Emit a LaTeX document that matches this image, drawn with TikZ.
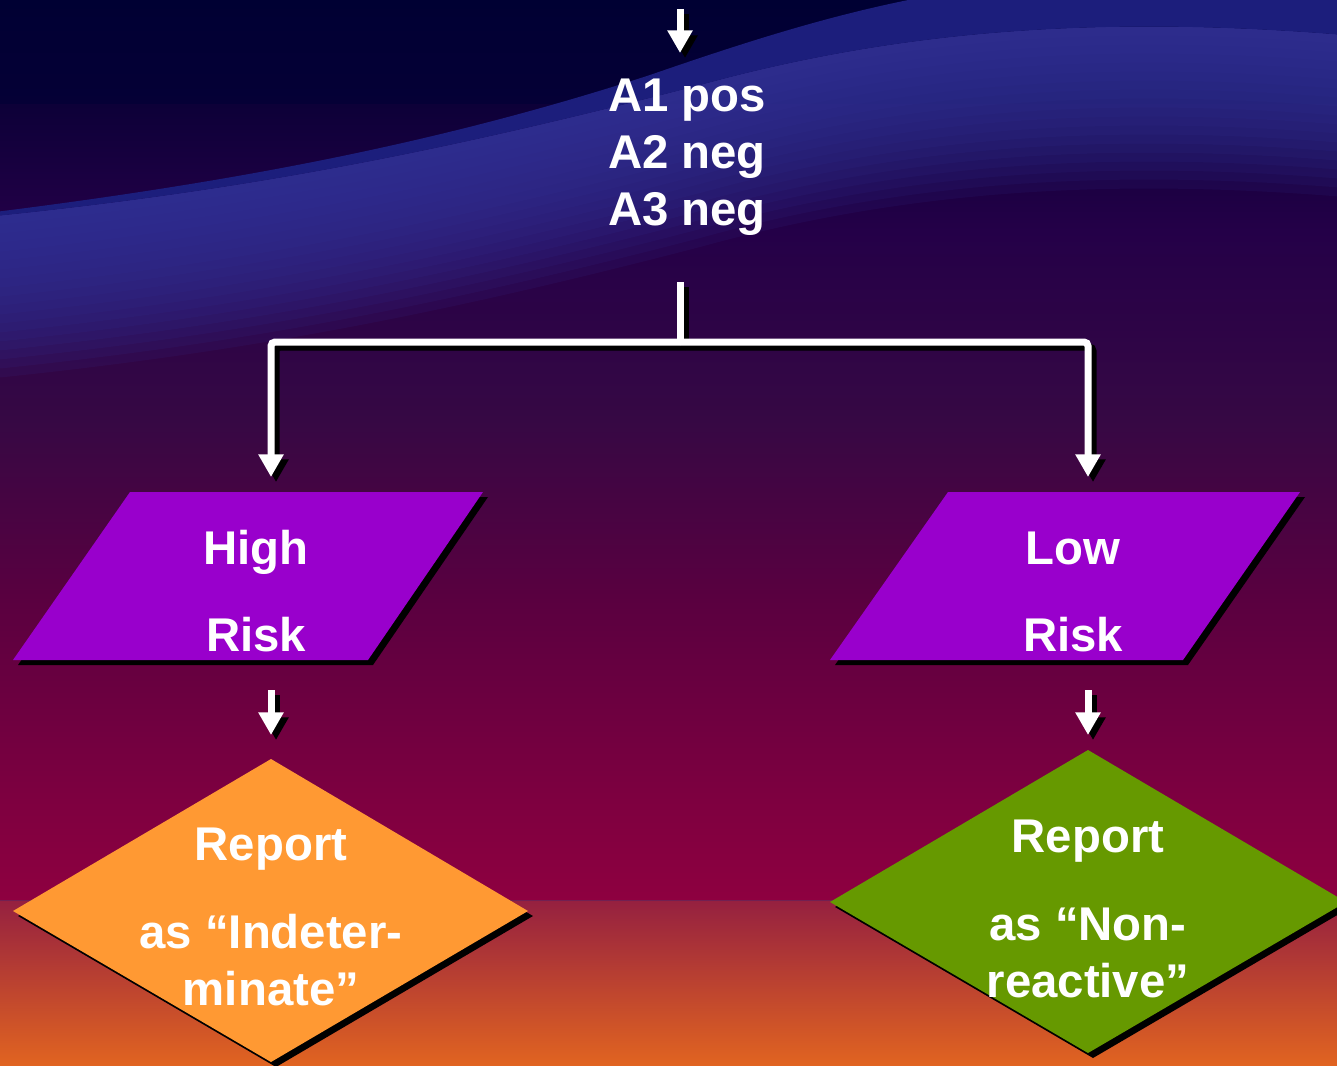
\documentclass[tikz,border=0pt]{standalone}
\usepackage{fontspec}
\setmainfont{Liberation Sans}
\usetikzlibrary{arrows.meta}
\definecolor{purp}{HTML}{9900CC}
\definecolor{orng}{HTML}{FF9933}
\definecolor{grn}{HTML}{669900}
\definecolor{wavelight}{HTML}{35349A}
\definecolor{wavedark}{HTML}{1C1E7C}
\definecolor{bgA}{HTML}{000033}
\definecolor{bgB}{HTML}{050036}
\definecolor{bgC}{HTML}{0D0038}
\definecolor{bgD}{HTML}{240048}
\definecolor{bgE}{HTML}{360844}
\definecolor{bgF}{HTML}{5A0040}
\definecolor{bgG}{HTML}{7E0040}
\definecolor{bgH}{HTML}{8E0040}
\definecolor{bgI}{HTML}{952040}
\definecolor{bgJ}{HTML}{E26520}
\newcommand\wavereg[1]{(-5,216+#1) .. controls (250,190+#1) and (450,150+#1) .. (700,85+#1) .. controls (900,30+#1) and (1100,15+#1) .. (1345,35+#1) -- (1345,900) -- (-5,900) -- cycle}
\tikzset{
  lbl/.style={text=white, font=\bfseries\fontsize{35.5}{42.75}\selectfont, align=center, inner sep=0pt},
  shd/.style={draw=black, line width=5.25pt, transform canvas={shift={(5,5)}}},
  wht/.style={draw=white, line width=5.25pt},
  arr/.style={-{Triangle[width=18pt,length=17pt]}},
  boxshadow/.style={fill=black, shift={(5,5)}}
}
\begin{document}
\begin{tikzpicture}[x=0.75pt,y=-0.75pt]
\useasboundingbox (0,0) rectangle (1337,1066);
% background
\shade[top color=bgA, bottom color=bgB] (-2,-2) rectangle (1339,106);
\shade[top color=bgC, bottom color=bgD] (-2,105) rectangle (1339,231);
\shade[top color=bgD, bottom color=bgE] (-2,230) rectangle (1339,421);
\shade[top color=bgE, bottom color=bgF] (-2,420) rectangle (1339,601);
\shade[top color=bgF, bottom color=bgG] (-2,600) rectangle (1339,801);
\shade[top color=bgG, bottom color=bgH] (-2,800) rectangle (1339,901);
\shade[top color=bgI, bottom color=bgJ] (-2,900) rectangle (1339,1068);
% wave
\foreach \k in {1,...,18}
  \fill[wavelight, opacity=0.12, even odd rule] \wavereg{0} \wavereg{\k*9};
\fill[wavedark] (-5,212) .. controls (250,180) and (450,140) .. (650,75) .. controls (780,30) and (880,0) .. (1000,-15) -- (1345,-15) -- (1345,35) .. controls (1100,15) and (900,30) .. (700,85) .. controls (450,150) and (250,190) .. (-5,216) -- cycle;
% shapes
\fill[boxshadow] (130,492) -- (483,492) -- (368,660) -- (13,660) -- cycle;
\fill[purp] (130,492) -- (483,492) -- (368,660) -- (13,660) -- cycle;
\fill[boxshadow] (948,492) -- (1300,492) -- (1183,660) -- (830,660) -- cycle;
\fill[purp] (948,492) -- (1300,492) -- (1183,660) -- (830,660) -- cycle;
\fill[boxshadow] (271,759) -- (528,911) -- (271,1062) -- (13,911) -- cycle;
\fill[orng] (271,759) -- (528,911) -- (271,1062) -- (13,911) -- cycle;
\fill[boxshadow] (1088,750) -- (1346,902) -- (1088,1053) -- (830,902) -- cycle;
\fill[grn] (1088,750) -- (1346,902) -- (1088,1053) -- (830,902) -- cycle;
% text
\node[lbl] (acond) at (687,157) {A1 pos\\A2 neg\\A3 neg};
\node[lbl] (high) at (256,591.5) {High\\[22.5pt]Risk};
\node[lbl] (low) at (1073,591.5) {Low\\[22.5pt]Risk};
\node[lbl] (repL) at (271,917) {Report\\[23.25pt]as “Indeter-\\minate”};
\node[lbl] (repR) at (1088,909) {Report\\[23.25pt]as “Non-\\reactive”};
% connector ends
\coordinate (topin) at (680,9);
\coordinate (topout) at (680,53);
\coordinate (stub) at (680,282);
\coordinate (split) at (680,342);
\coordinate (hin) at (271,477);
\coordinate (lin) at (1088,477);
\coordinate (hout) at (271,690);
\coordinate (repLin) at (271,735);
\coordinate (lout) at (1088,690);
\coordinate (repRin) at (1088,735);
% connectors
\foreach \s in {shd,wht} {
  \draw[\s,arr] (topin) -- (topout);
  \draw[\s] (stub) -- (split);
  \draw[\s,arr,rounded corners=3] (split) -| (hin);
  \draw[\s,arr,rounded corners=3] (split) -| (lin);
  \draw[\s,arr] (hout) -- (repLin);
  \draw[\s,arr] (lout) -- (repRin);
}
\end{tikzpicture}
\end{document}
